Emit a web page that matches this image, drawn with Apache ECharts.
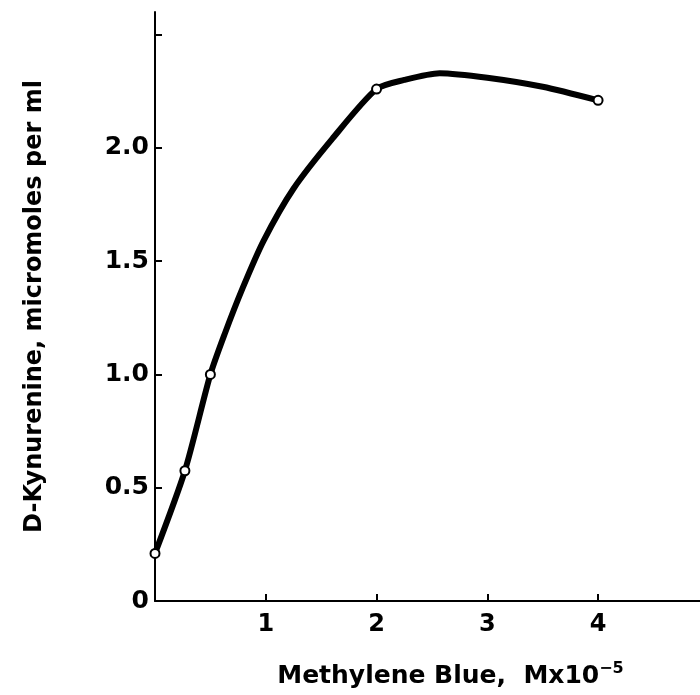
<!DOCTYPE html>
<html>
<head>
<meta charset="utf-8">
<script src="https://cdn.jsdelivr.net/npm/echarts@6/dist/echarts.min.js"></script>
<style>
    html, body { margin: 0; padding: 0; background: #fff; }
    #chart { width: 700px; height: 695px; }
</style>
</head>
<body>
<div id="chart"></div>
<script>
    // measured points (open circles)
    var dotX = [0, 0.27, 0.5, 2, 4];
    var dotY = [0.21, 0.575, 1.0, 2.26, 2.21];

    // hand drawn curve
    var curveX = [0, 0.27, 0.5, 0.63, 0.79, 0.98, 1.25, 1.6, 2.0, 2.25, 2.57, 3.0, 3.5, 4.0];
    var curveY = [0.21, 0.575, 1.0, 1.18, 1.38, 1.59, 1.82, 2.04, 2.26, 2.30, 2.33, 2.31, 2.27, 2.21];

    var xTicks = [1, 2, 3, 4];
    var yTicks = [0, 0.5, 1.0, 1.5, 2.0, 2.5];
    var yLabels = [0, 0.5, 1.0, 1.5, 2.0];

    var dots = [];
    for (var i = 0; i < dotX.length; i++) dots.push([dotX[i], dotY[i]]);
    var curve = [];
    for (var j = 0; j < curveX.length; j++) curve.push([curveX[j], curveY[j]]);

    var font = '"DejaVu Sans", sans-serif';

    var chart = echarts.init(document.getElementById('chart'));
    chart.setOption({
        animation: false,
        grid: { left: 155, right: 0, top: 12, bottom: 94 },
        xAxis: {
            type: 'value',
            min: 0,
            max: 4.92,
            splitLine: { show: false },
            axisLine: { lineStyle: { color: '#000', width: 2 } },
            axisTick: { inside: true, length: 7, customValues: xTicks, lineStyle: { color: '#000', width: 2 } },
            axisLabel: {
                customValues: xTicks,
                margin: 12,
                color: '#000',
                fontSize: 24,
                fontWeight: 'bold',
                fontFamily: font
            },
            name: '{t|Methylene Blue,  Mx10}{s|−5}',
            nameLocation: 'middle',
            nameGap: 60,
            nameTextStyle: {
                padding: [0, 0, 0, 46],
                rich: {
                    t: { fontSize: 25, fontWeight: 'bold', fontFamily: font, color: '#000' },
                    s: { fontSize: 16, fontWeight: 'bold', fontFamily: font, color: '#000', verticalAlign: 'top', padding: [0, 0, 14, 0] }
                }
            }
        },
        yAxis: {
            type: 'value',
            min: 0,
            max: 2.6,
            splitLine: { show: false },
            axisLine: { lineStyle: { color: '#000', width: 2 } },
            axisTick: { inside: true, length: 7, customValues: yTicks, lineStyle: { color: '#000', width: 2 } },
            axisLabel: {
                customValues: yLabels,
                margin: 6,
                color: '#000',
                fontSize: 25,
                fontWeight: 'bold',
                fontFamily: font,
                formatter: function (v) { return v === 0 ? '0' : v.toFixed(1); }
            },
            name: 'D-Kynurenine, micromoles per ml',
            nameLocation: 'middle',
            nameGap: 108,
            nameTextStyle: { fontSize: 24, fontWeight: 'bold', fontFamily: font, color: '#000' }
        },
        series: [
            {
                type: 'line',
                data: curve,
                smooth: 0.25,
                showSymbol: false,
                lineStyle: { color: '#000', width: 6 },
                z: 2
            },
            {
                type: 'scatter',
                data: dots,
                symbol: 'circle',
                symbolSize: 9,
                itemStyle: { color: '#fff', borderColor: '#000', borderWidth: 2, opacity: 1 },
                z: 3
            }
        ]
    });
</script>
</body>
</html>
